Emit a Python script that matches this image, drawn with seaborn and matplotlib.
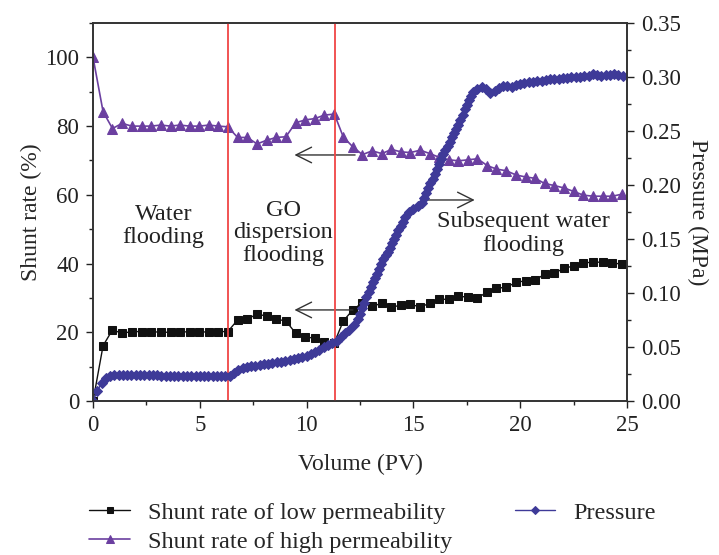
import numpy as np
import pandas as pd
import matplotlib
matplotlib.use("Agg")
import matplotlib.pyplot as plt
from matplotlib.ticker import MultipleLocator
import seaborn as sns

# volumen inyectado (PV) para las tasas de derivación
volumen = [0, 0.47, 0.91, 1.36, 1.81, 2.27, 2.72, 3.17, 3.63, 4.06, 4.52, 4.97, 5.43, 5.86,
           6.31, 6.77, 7.22, 7.68, 8.13, 8.58, 9.03, 9.49, 9.94, 10.39, 10.83, 11.3, 11.72,
           12.16, 12.61, 13.07, 13.52, 13.97, 14.43, 14.86, 15.32, 15.77, 16.22, 16.66,
           17.11, 17.57, 18.0, 18.46, 18.89, 19.35, 19.8, 20.25, 20.71, 21.14, 21.6, 22.05,
           22.5, 22.96, 23.41, 23.86, 24.32, 24.77]
baja_perm = [0, 16.1, 20.7, 19.7, 20.2, 20.2, 20.2, 20.0, 20.0, 20.0, 20.2, 20.2, 20.0, 20.2,
             20.2, 23.6, 23.8, 25.3, 24.7, 23.8, 23.3, 19.7, 18.7, 18.2, 17.3, 17.0, 23.3,
             26.5, 28.6, 27.6, 28.4, 27.3, 27.9, 28.1, 27.4, 28.4, 29.6, 29.6, 30.5, 30.2,
             29.9, 31.8, 32.8, 33.1, 34.5, 35.0, 35.2, 36.9, 37.2, 38.6, 39.3, 40.2, 40.4,
             40.4, 40.2, 39.8]
alta_perm = [100, 84.2, 79.3, 80.8, 80.0, 80.0, 80.0, 80.3, 80.0, 80.3, 80.0, 80.0, 80.3, 80.0,
             79.8, 76.7, 76.7, 74.8, 75.9, 76.7, 76.9, 81.0, 81.8, 82.2, 83.2, 83.5, 76.8,
             74.0, 71.7, 72.8, 72.0, 73.2, 72.5, 72.3, 73.0, 72.0, 70.9, 70.2, 69.9, 70.2,
             70.5, 68.5, 67.5, 67.0, 65.8, 65.2, 64.8, 63.3, 62.7, 62.0, 61.0, 59.9, 59.6,
             59.6, 59.6, 60.2]

# presión (MPa)
vol_presion = [0.0, 0.2, 0.4, 0.6, 0.8, 1.0, 1.2, 1.4, 1.6, 1.8, 2.0, 2.2, 2.4, 2.6, 2.8, 3.0,
               3.2, 3.4, 3.6, 3.8, 4.0, 4.2, 4.4, 4.6, 4.8, 5.0, 5.2, 5.4, 5.6, 5.8, 6.0, 6.2,
               6.4, 6.6, 6.8, 7.0, 7.2, 7.4, 7.6, 7.8, 8.0, 8.2, 8.4, 8.6, 8.8, 9.0, 9.2, 9.4,
               9.6, 9.8, 10.0, 10.2, 10.4, 10.6, 10.8, 11.0, 11.2, 11.4, 11.6, 11.8, 12.0,
               12.2, 12.4, 12.5, 12.6, 12.7, 12.8, 12.9, 13.0, 13.1, 13.2, 13.3, 13.4, 13.5,
               13.6, 13.7, 13.8, 13.9, 14.0, 14.1, 14.2, 14.3, 14.4, 14.5, 14.6, 14.8, 15.0,
               15.2, 15.4, 15.5, 15.6, 15.7, 15.8, 15.9, 16.0, 16.1, 16.2, 16.3, 16.4, 16.5,
               16.6, 16.7, 16.8, 16.9, 17.0, 17.1, 17.2, 17.3, 17.4, 17.5, 17.6, 17.7, 17.8,
               18.0, 18.2, 18.4, 18.6, 18.8, 19.0, 19.2, 19.4, 19.6, 19.8, 20.0, 20.2, 20.4,
               20.6, 20.8, 21.0, 21.2, 21.4, 21.6, 21.8, 22.0, 22.2, 22.4, 22.6, 22.8, 23.0,
               23.2, 23.4, 23.6, 23.8, 24.0, 24.2, 24.4, 24.6, 24.8]
presion = [0.0, 0.009, 0.017, 0.021, 0.0235, 0.024, 0.0245, 0.0245, 0.0245, 0.0243, 0.0242,
           0.0241, 0.024, 0.0238, 0.0238, 0.0237, 0.0236, 0.0235, 0.0235, 0.0234, 0.0233,
           0.0233, 0.0232, 0.0232, 0.0231, 0.0231, 0.023, 0.023, 0.023, 0.023, 0.023, 0.023,
           0.0232, 0.026, 0.029, 0.0305, 0.0315, 0.0322, 0.0328, 0.0334, 0.034, 0.0346,
           0.0352, 0.0358, 0.0364, 0.0371, 0.0378, 0.0386, 0.0395, 0.0405, 0.0418, 0.0432,
           0.0452, 0.0475, 0.05, 0.0523, 0.0541, 0.0558, 0.059, 0.0625, 0.066, 0.07, 0.076,
           0.081, 0.086, 0.091, 0.096, 0.101, 0.106, 0.110, 0.1135, 0.118, 0.122, 0.127,
           0.1318, 0.135, 0.138, 0.142, 0.146, 0.150, 0.154, 0.158, 0.162, 0.166, 0.170,
           0.175, 0.178, 0.181, 0.183, 0.188, 0.193, 0.1975, 0.202, 0.206, 0.210, 0.2145,
           0.219, 0.224, 0.229, 0.2325, 0.236, 0.240, 0.244, 0.248, 0.252, 0.256, 0.260,
           0.265, 0.270, 0.2745, 0.279, 0.2825, 0.286, 0.289, 0.291, 0.289, 0.285, 0.287,
           0.290, 0.292, 0.292, 0.291, 0.293, 0.2935, 0.2945, 0.295, 0.2955, 0.296, 0.2965,
           0.2975, 0.298, 0.2985, 0.2985, 0.299, 0.2995, 0.300, 0.300, 0.300, 0.3005, 0.301,
           0.3025, 0.302, 0.301, 0.302, 0.3015, 0.3025, 0.3015, 0.3005]

limites_etapas = [6.33, 11.35]

sns.set_theme(style="ticks")
plt.rcParams['font.family'] = ['Liberation Serif', 'DejaVu Serif']
plt.rcParams['font.size'] = 16

c_baja = '#111111'
c_alta = '#6b3fa0'
c_pres = '#3e3a98'

fig = plt.figure(figsize=(7.19, 5.55), dpi=100)
ax = fig.add_axes([0.1294, 0.2775, 0.7426, 0.681])
ax2 = ax.twinx()

df = pd.DataFrame({'Volumen': volumen, 'baja': baja_perm, 'alta': alta_perm})
dfp = pd.DataFrame({'Volumen': vol_presion, 'Presion': presion})

sns.lineplot(data=df, x='Volumen', y='baja', ax=ax, color=c_baja, marker='s', markersize=6,
             markeredgecolor=c_baja, linewidth=1, label='Shunt rate of low permeability')
sns.lineplot(data=df, x='Volumen', y='alta', ax=ax, color=c_alta, marker='^', markersize=7.5,
             markeredgecolor=c_alta, linewidth=1.2, label='Shunt rate of high permeability')
sns.lineplot(data=dfp, x='Volumen', y='Presion', ax=ax2, color=c_pres, marker='D', markersize=5,
             markeredgecolor=c_pres, linewidth=1, label='Pressure')

for xv in limites_etapas:
    ax.axvline(xv, color='#f04545', linewidth=1.3, zorder=5)

# flechas
flecha = dict(arrowstyle='->,head_length=0.7,head_width=0.35', color='#333333', lw=1)
ax.annotate('', xy=(9.3, 71.6), xytext=(12.4, 71.6), arrowprops=flecha)
ax.annotate('', xy=(9.3, 26.5), xytext=(12.3, 26.5), arrowprops=flecha)
ax.annotate('', xy=(18.0, 58.5), xytext=(15.45, 58.5), arrowprops=flecha)

fs_txt = 17.5
ax.text(3.3, 51, 'Water\nflooding', ha='center', va='center', fontsize=fs_txt, linespacing=1.15, color='#222222')
ax.text(8.9, 49, 'GO\ndispersion\nflooding', ha='center', va='center', fontsize=fs_txt, linespacing=1.1, color='#222222')
ax.text(20.15, 48.7, 'Subsequent water\nflooding', ha='center', va='center', fontsize=fs_txt, linespacing=1.15, color='#222222')

ax.set_xlim(0, 25)
ax.set_ylim(0, 110)
ax2.set_ylim(0, 0.35)
ax.xaxis.set_major_locator(MultipleLocator(5))
ax.xaxis.set_minor_locator(MultipleLocator(2.5))
ax.yaxis.set_major_locator(MultipleLocator(20))
ax.yaxis.set_minor_locator(MultipleLocator(10))
ax2.yaxis.set_major_locator(MultipleLocator(0.05))
ax2.yaxis.set_minor_locator(MultipleLocator(0.025))
ax2.set_yticklabels([f'{v:.2f}' for v in ax2.get_yticks()])

for a in (ax, ax2):
    a.tick_params(which='major', direction='out', length=5, width=1, colors='#222222', labelsize=16.5, pad=5)
    a.tick_params(which='minor', direction='out', length=3, width=1, colors='#222222')
    for s in a.spines.values():
        s.set_visible(True)
        s.set_color('#333333')
        s.set_linewidth(1.2)

ax.set_xlabel('Volume (PV)', fontsize=17, labelpad=13)
ax.set_ylabel('Shunt rate (%)', fontsize=17, labelpad=2)
ax2.set_ylabel('Pressure (MPa)', fontsize=17, rotation=270, labelpad=20)

h1, l1 = ax.get_legend_handles_labels()
h2, l2 = ax2.get_legend_handles_labels()
ax.get_legend().remove()
ax2.get_legend().remove()
fig.legend(h1 + h2, l1 + l2, ncol=2, loc='upper left', bbox_to_anchor=(0.094, 0.135),
           frameon=False, fontsize=17.5, handlelength=1.65, columnspacing=2.6,
           labelspacing=0.28, handletextpad=0.74, markerscale=0.75)

fig.savefig('out.png', dpi=100)
